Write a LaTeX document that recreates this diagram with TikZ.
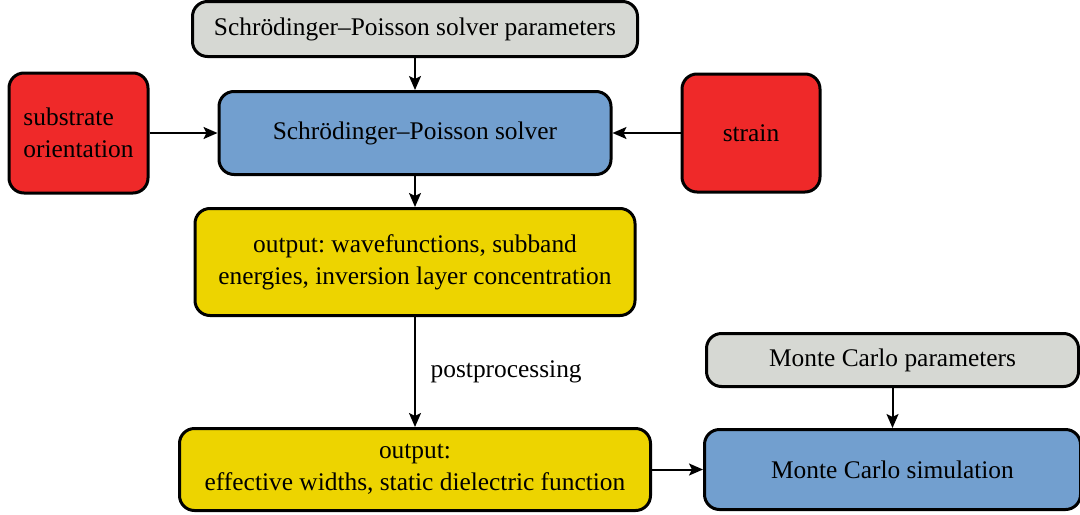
\documentclass[tikz,border=0pt]{standalone}
\usepackage{fontspec}
\setmainfont{Liberation Serif}
\usetikzlibrary{positioning,arrows.meta}

\definecolor{paramgray}{HTML}{D6D8D3}
\definecolor{solverblue}{HTML}{729FCF}
\definecolor{inputred}{HTML}{EF2929}
\definecolor{outyellow}{HTML}{EDD400}

\tikzset{
  box/.style={draw=black, line width=1.5pt, rounded corners=7.5pt, align=center,
    inner sep=2pt, font=\fontsize{12.7}{16}\selectfont},
  param/.style={box, fill=paramgray},
  solver/.style={box, fill=solverblue},
  input/.style={box, fill=inputred},
  result/.style={box, fill=outyellow},
  flow/.style={-{Stealth[length=7pt,width=6pt,inset=1.5pt]}, line width=1pt},
}

\frenchspacing
\begin{document}
\begin{tikzpicture}
  \useasboundingbox (0,0) rectangle (540pt,-257pt);
  % Schroedinger--Poisson part
  \node[solver, minimum width=196pt, minimum height=41.5pt] (sp) at (207.5pt,-66.5pt)
    {Schrödinger–Poisson solver};
  \node[param, minimum width=222.5pt, minimum height=27.5pt, above=16pt of sp] (sppar)
    {Schrödinger–Poisson solver parameters};
  \node[input, minimum width=69.5pt, minimum height=60pt, align=left, left=34pt of sp] (sub)
    {substrate\\orientation};
  \node[input, minimum width=69pt, minimum height=59pt, right=34pt of sp] (strain) {strain};
  \node[result, minimum width=220pt, minimum height=53.5pt, below=15.5pt of sp] (out1)
    {output: wavefunctions, subband\\energies, inversion layer concentration};
  % Monte Carlo part
  \node[result, minimum width=235.5pt, minimum height=41pt, below=55pt of out1] (out2)
    {output:\\effective widths, static dielectric function};
  \node[solver, minimum width=188pt, minimum height=40pt, right=25.5pt of out2] (mc)
    {Monte Carlo simulation};
  \node[param, minimum width=186pt, minimum height=26.5pt, above=20pt of mc] (mcpar)
    {Monte Carlo parameters};

  \draw[flow] (sppar) -- (sp);
  \draw[flow] (sub) -- (sp);
  \draw[flow] (strain) -- (sp);
  \draw[flow] (sp) -- (out1);
  \draw[flow] (out1) -- node[right=4pt, font=\fontsize{12.7}{16}\selectfont] {postprocessing} (out2);
  \draw[flow] (out2) -- (mc);
  \draw[flow] (mcpar) -- (mc);
\end{tikzpicture}
\end{document}
